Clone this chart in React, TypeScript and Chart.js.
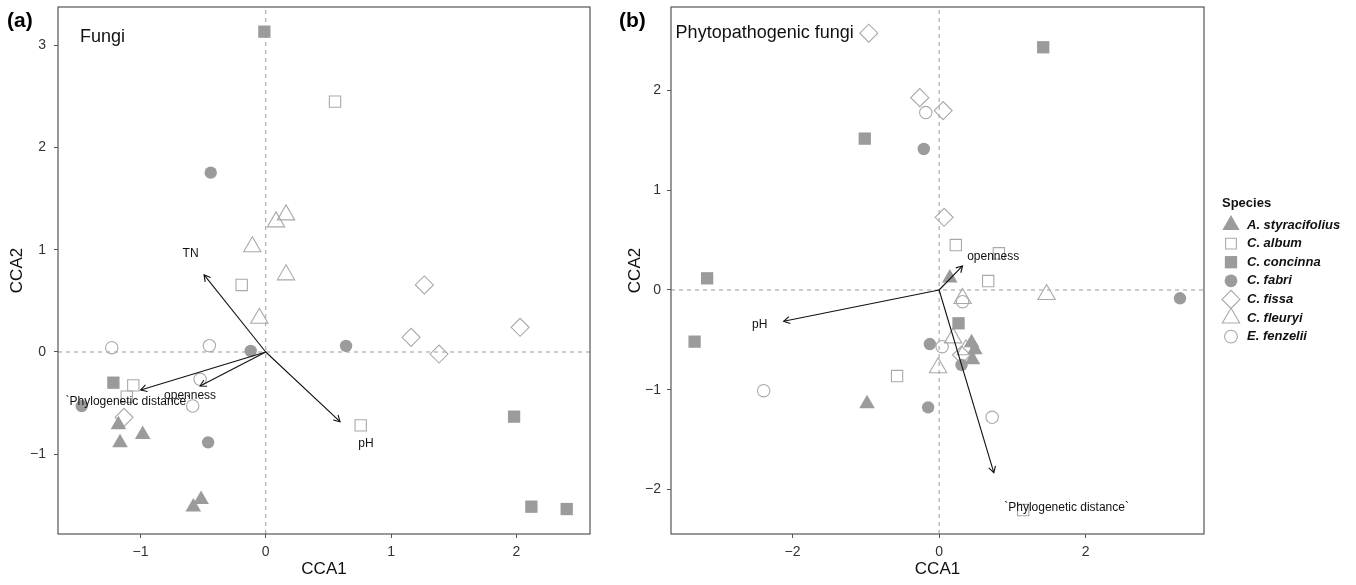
import React, { useEffect, useRef } from 'react';
import { Chart, registerables } from 'chart.js';
import { drawPoint } from 'chart.js/helpers';

Chart.register(...registerables);

const FONT = '"Liberation Sans", Arial, Helvetica, sans-serif';

// ---------- categories ----------
const SPECIES = ['A. styracifolius', 'C. album', 'C. concinna', 'C. fabri', 'C. fissa', 'C. fleuryi', 'E. fenzelii'];
const SPECIES_SHAPES = ['triangle', 'rect', 'rect', 'circle', 'rectRot', 'triangle', 'circle'];
const SPECIES_FILLED = [true, false, true, true, false, false, false];
const SPECIES_RADII = [9, 8, 8.7, 6.2, 9, 10, 6.2];
const LEGEND_RADII = [10, 7.6, 8.7, 6.4, 9, 10, 6.4];
const FILL_GREY = '#9b9b9b';
const OPEN_GREY = '#a9a9a9';

// ---------- panel (a) Fungi ----------
const FUNGI_A_STYRACIFOLIUS = [[-1.176, -0.71], [-1.163, -0.887], [-0.982, -0.806], [-0.578, -1.516], [-0.516, -1.441]];
const FUNGI_C_ALBUM = [[0.553, 2.447], [-0.192, 0.655], [-1.057, -0.326], [-1.109, -0.437], [0.758, -0.717]];
const FUNGI_C_CONCINNA = [[-0.011, 3.131], [-1.216, -0.3], [1.982, -0.632], [2.12, -1.512], [2.402, -1.535]];
const FUNGI_C_FABRI = [[-0.439, 1.753], [-0.12, 0.01], [-1.469, -0.528], [-0.46, -0.883], [0.641, 0.059]];
const FUNGI_C_FISSA = [[-1.131, -0.639], [1.266, 0.655], [1.16, 0.143], [1.383, -0.02], [2.03, 0.241]];
const FUNGI_C_FLEURYI = [[0.162, 1.34], [0.082, 1.272], [-0.107, 1.028], [0.162, 0.754], [-0.051, 0.33]];
const FUNGI_E_FENZELII = [[-1.229, 0.042], [-0.45, 0.062], [-0.524, -0.267], [-0.583, -0.528]];

const FUNGI_ARROW_NAMES = ['TN', 'pH', '`Phylogenetic distance`', 'openness'];
const FUNGI_ARROW_X = [-0.492, 0.593, -0.998, -0.524];
const FUNGI_ARROW_Y = [0.753, -0.681, -0.371, -0.332];
const FUNGI_LABEL_X = [-0.6, 0.8, -1.1, -0.604];
const FUNGI_LABEL_Y = [0.965, -0.9, -0.486, -0.43];

const FUNGI_X_TICKS = [-1, 0, 1, 2];
const FUNGI_Y_TICKS = [-1, 0, 1, 2, 3];
const FUNGI_X_RANGE = [-1.658, 2.588];
const FUNGI_Y_RANGE = [-1.779, 3.372];

// ---------- panel (b) Phytopathogenic fungi ----------
const PATHO_A_STYRACIFOLIUS = [[0.146, 0.12], [-0.984, -1.14], [0.443, -0.53], [0.488, -0.6], [0.456, -0.7]];
const PATHO_C_ALBUM = [[0.228, 0.451], [0.816, 0.368], [0.67, 0.09], [-0.574, -0.863], [1.148, -2.207]];
const PATHO_C_CONCINNA = [[1.421, 2.434], [-1.015, 1.518], [-3.167, 0.117], [-3.338, -0.518], [0.265, -0.334]];
const PATHO_C_FABRI = [[-0.209, 1.414], [-0.127, -0.542], [-0.15, -1.177], [0.306, -0.752], [3.288, -0.083]];
const PATHO_C_FISSA = [[-0.96, 2.575], [-0.264, 1.929], [0.055, 1.799], [0.068, 0.729], [0.306, -0.652]];
const PATHO_C_FLEURYI = [[0.32, -0.085], [0.191, -0.48], [-0.014, -0.78], [1.467, -0.045], [0.365, -0.6]];
const PATHO_E_FENZELII = [[-0.182, 1.779], [-2.395, -1.01], [0.041, -0.568], [0.724, -1.277], [0.32, -0.117]];

const PATHO_ARROW_NAMES = ['openness', 'pH', '`Phylogenetic distance`'];
const PATHO_ARROW_X = [0.32, -2.122, 0.747];
const PATHO_ARROW_Y = [0.241, -0.314, -1.832];
const PATHO_LABEL_X = [0.738, -2.45, 1.74];
const PATHO_LABEL_Y = [0.334, -0.344, -2.18];

const PATHO_X_TICKS = [-2, 0, 2];
const PATHO_Y_TICKS = [-2, -1, 0, 1, 2];
const PATHO_X_RANGE = [-3.66, 3.616];
const PATHO_Y_RANGE = [-2.447, 2.838];

const PANELS = [
  {
    tag: '(a)',
    title: 'Fungi',
    titleAt: [-1.482, 3.033],
    series: [FUNGI_A_STYRACIFOLIUS, FUNGI_C_ALBUM, FUNGI_C_CONCINNA, FUNGI_C_FABRI, FUNGI_C_FISSA, FUNGI_C_FLEURYI, FUNGI_E_FENZELII],
    arrowNames: FUNGI_ARROW_NAMES,
    arrowX: FUNGI_ARROW_X,
    arrowY: FUNGI_ARROW_Y,
    labelX: FUNGI_LABEL_X,
    labelY: FUNGI_LABEL_Y,
    xTicks: FUNGI_X_TICKS,
    yTicks: FUNGI_Y_TICKS,
    xRange: FUNGI_X_RANGE,
    yRange: FUNGI_Y_RANGE,
    canvasLeft: 0,
    canvasWidth: 600,
    yAxisWidth: 58,
    padRight: 10,
    yTitlePad: 7,
    yTickPad: 8,
    tagX: 7,
    legend: false,
  },
  {
    tag: '(b)',
    title: 'Phytopathogenic fungi',
    titleAt: [-3.597, 2.528],
    series: [PATHO_A_STYRACIFOLIUS, PATHO_C_ALBUM, PATHO_C_CONCINNA, PATHO_C_FABRI, PATHO_C_FISSA, PATHO_C_FLEURYI, PATHO_E_FENZELII],
    arrowNames: PATHO_ARROW_NAMES,
    arrowX: PATHO_ARROW_X,
    arrowY: PATHO_ARROW_Y,
    labelX: PATHO_LABEL_X,
    labelY: PATHO_LABEL_Y,
    xTicks: PATHO_X_TICKS,
    yTicks: PATHO_Y_TICKS,
    xRange: PATHO_X_RANGE,
    yRange: PATHO_Y_RANGE,
    canvasLeft: 600,
    canvasWidth: 756,
    yAxisWidth: 71,
    padRight: 152,
    yTitlePad: 25,
    yTickPad: 6,
    tagX: 19,
    legend: true,
  },
];

const fmt = (v: number) => (v < 0 ? '\u2212' + Math.abs(v) : String(v));

function speciesDatasets(series: number[][][]) {
  return series.map((pts, i) => ({
    label: SPECIES[i],
    data: pts.map(([x, y]) => ({ x, y })),
    pointStyle: SPECIES_SHAPES[i],
    pointRadius: SPECIES_RADII[i],
    pointHoverRadius: SPECIES_RADII[i],
    backgroundColor: SPECIES_FILLED[i] ? FILL_GREY : 'rgba(0,0,0,0)',
    borderColor: SPECIES_FILLED[i] ? FILL_GREY : OPEN_GREY,
    pointBorderWidth: SPECIES_FILLED[i] ? 0 : 1.1,
    borderWidth: SPECIES_FILLED[i] ? 0 : 1.1,
    showLine: false,
    order: 1,
  }));
}

function zeroLines(p: any) {
  const base = {
    showLine: true,
    borderColor: '#9a9a9a',
    borderWidth: 1,
    borderDash: [4, 4],
    pointRadius: 0,
    order: 5,
  };
  return [
    { ...base, label: 'h0', data: [{ x: p.xRange[0], y: 0 }, { x: p.xRange[1], y: 0 }] },
    { ...base, label: 'v0', data: [{ x: 0, y: p.yRange[0] }, { x: 0, y: p.yRange[1] }] },
  ];
}

function makePlugin(p: any) {
  return {
    id: 'panelExtras',
    afterDatasetsDraw(chart: any) {
      const { ctx, chartArea: a } = chart;
      const xs = chart.scales.x;
      const ys = chart.scales.y;
      ctx.save();
      // arrows
      ctx.strokeStyle = '#111';
      ctx.lineWidth = 1.1;
      const x0 = xs.getPixelForValue(0);
      const y0 = ys.getPixelForValue(0);
      p.arrowX.forEach((ax: number, i: number) => {
        const x1 = xs.getPixelForValue(ax);
        const y1 = ys.getPixelForValue(p.arrowY[i]);
        ctx.beginPath();
        ctx.moveTo(x0, y0);
        ctx.lineTo(x1, y1);
        ctx.stroke();
        const ang = Math.atan2(y1 - y0, x1 - x0);
        const L = 7;
        const sp = Math.PI / 6;
        ctx.beginPath();
        ctx.moveTo(x1 - L * Math.cos(ang - sp), y1 - L * Math.sin(ang - sp));
        ctx.lineTo(x1, y1);
        ctx.lineTo(x1 - L * Math.cos(ang + sp), y1 - L * Math.sin(ang + sp));
        ctx.stroke();
      });
      // arrow labels
      ctx.fillStyle = '#111';
      ctx.font = `12px ${FONT}`;
      ctx.textAlign = 'center';
      ctx.textBaseline = 'middle';
      p.arrowNames.forEach((name: string, i: number) => {
        ctx.fillText(name, xs.getPixelForValue(p.labelX[i]), ys.getPixelForValue(p.labelY[i]));
      });
      // panel annotation
      ctx.font = `18px ${FONT}`;
      ctx.textAlign = 'left';
      ctx.textBaseline = 'alphabetic';
      ctx.fillText(p.title, xs.getPixelForValue(p.titleAt[0]), ys.getPixelForValue(p.titleAt[1]));
      // panel border
      ctx.strokeStyle = '#555';
      ctx.lineWidth = 1.2;
      ctx.strokeRect(a.left, a.top, a.right - a.left, a.bottom - a.top);
      ctx.restore();
    },
    afterDraw(chart: any) {
      const { ctx } = chart;
      ctx.save();
      ctx.fillStyle = '#000';
      ctx.font = `bold 21px ${FONT}`;
      ctx.textAlign = 'left';
      ctx.textBaseline = 'middle';
      ctx.fillText(p.tag, p.tagX, 21);
      if (p.legend) {
        const off = -p.canvasLeft;
        ctx.fillStyle = '#111';
        ctx.font = `bold 13px ${FONT}`;
        ctx.fillText('Species', 1222 + off, 203);
        SPECIES.forEach((name, i) => {
          const cy = 225 + i * 18.6;
          ctx.save();
          ctx.fillStyle = SPECIES_FILLED[i] ? FILL_GREY : 'rgba(0,0,0,0)';
          ctx.strokeStyle = SPECIES_FILLED[i] ? FILL_GREY : OPEN_GREY;
          ctx.lineWidth = 1.1;
          drawPoint(ctx, {
            pointStyle: SPECIES_SHAPES[i],
            radius: LEGEND_RADII[i],
            rotation: 0,
            borderWidth: SPECIES_FILLED[i] ? 0 : 1.1,
          } as any, 1231 + off, cy);
          ctx.restore();
          ctx.fillStyle = '#111';
          ctx.font = `italic bold 13px ${FONT}`;
          ctx.fillText(name, 1247 + off, cy);
        });
      }
      ctx.restore();
    },
  };
}

function makeChart(canvas: HTMLCanvasElement, p: any) {
  return new Chart(canvas, {
    type: 'scatter',
    data: { datasets: [...zeroLines(p), ...speciesDatasets(p.series)] as any },
    options: {
      responsive: false,
      animation: false,
      events: [],
      layout: { autoPadding: false, padding: { left: 0, top: 7, right: p.padRight, bottom: 0 } },
      plugins: { legend: { display: false }, tooltip: { enabled: false } },
      scales: {
        x: {
          type: 'linear',
          position: 'bottom',
          min: p.xRange[0],
          max: p.xRange[1],
          afterFit: (s: any) => { s.height = 51; s.paddingLeft = 0; s.paddingRight = 0; },
          afterBuildTicks: (s: any) => { s.ticks = p.xTicks.map((v: number) => ({ value: v })); },
          ticks: {
            font: { size: 14, family: FONT },
            color: '#333',
            padding: 6,
            maxRotation: 0,
            autoSkip: false,
            callback: (v: any) => fmt(Number(v)),
          },
          grid: { drawOnChartArea: false, drawTicks: true, tickLength: 4, color: '#555' },
          border: { display: false },
          title: { display: true, text: 'CCA1', font: { size: 17, family: FONT }, color: '#111', padding: { top: 0, bottom: 5 } },
        },
        y: {
          type: 'linear',
          position: 'left',
          min: p.yRange[0],
          max: p.yRange[1],
          afterFit: (s: any) => { s.width = p.yAxisWidth; s.paddingTop = 0; s.paddingBottom = 0; },
          afterBuildTicks: (s: any) => { s.ticks = p.yTicks.map((v: number) => ({ value: v })); },
          ticks: {
            font: { size: 14, family: FONT },
            color: '#333',
            padding: p.yTickPad,
            autoSkip: false,
            callback: (v: any) => fmt(Number(v)),
          },
          grid: { drawOnChartArea: false, drawTicks: true, tickLength: 4, color: '#555' },
          border: { display: false },
          title: { display: true, text: 'CCA2', font: { size: 17, family: FONT }, color: '#111', padding: { top: p.yTitlePad, bottom: 0 } },
        },
      },
    } as any,
    plugins: [makePlugin(p)],
  });
}

export default function App() {
  const refA = useRef<HTMLCanvasElement>(null);
  const refB = useRef<HTMLCanvasElement>(null);

  useEffect(() => {
    const charts: Chart[] = [];
    if (refA.current) charts.push(makeChart(refA.current, PANELS[0]));
    if (refB.current) charts.push(makeChart(refB.current, PANELS[1]));
    return () => charts.forEach((c) => c.destroy());
  }, []);

  return (
    <div style={{ position: 'fixed', left: 0, top: 0, width: 1356, height: 585, background: '#fff', overflow: 'hidden' }}>
      <canvas ref={refA} width={PANELS[0].canvasWidth} height={585} style={{ position: 'absolute', left: PANELS[0].canvasLeft, top: 0 }} />
      <canvas ref={refB} width={PANELS[1].canvasWidth} height={585} style={{ position: 'absolute', left: PANELS[1].canvasLeft, top: 0 }} />
    </div>
  );
}
